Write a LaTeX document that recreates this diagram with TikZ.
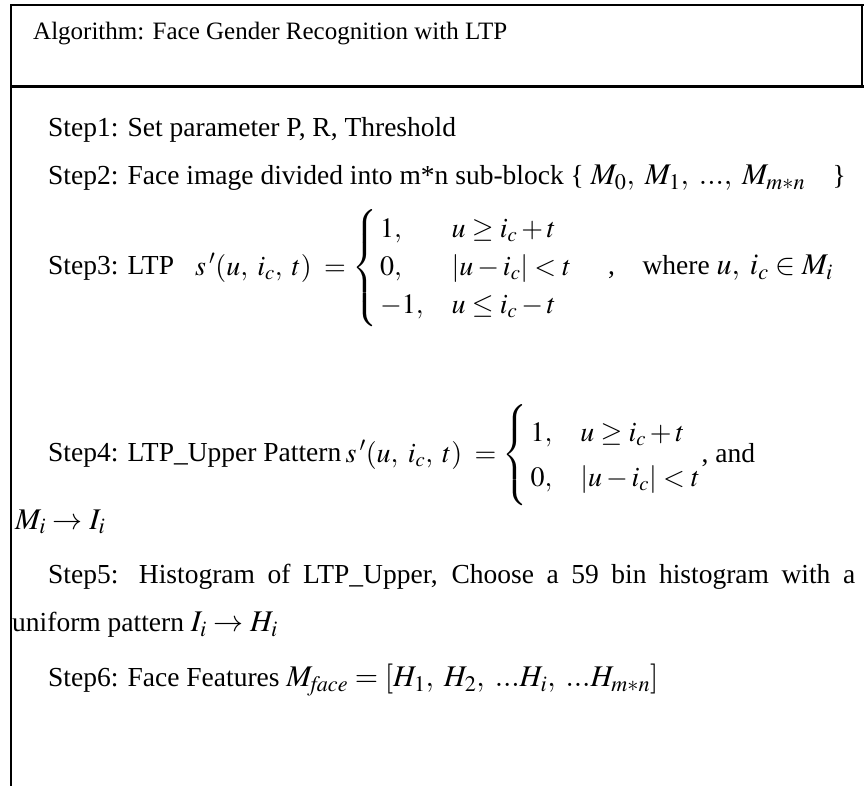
\documentclass[tikz,border=0pt]{standalone}
\usepackage{amsmath}
\usepackage{mathptmx}
\usepackage{fontspec}
\setmainfont{Liberation Serif}
\usetikzlibrary{positioning}

\newcommand{\mtxt}[1]{{\fontsize{30}{35}\selectfont$#1$}}
\newcommand{\casesrows}[2]{\renewcommand{\arraystretch}{#1}\left\{\begin{array}{@{\,}l@{\quad}l@{}}#2\end{array}\right.}

\begin{document}
\begin{tikzpicture}[x=1pt,y=1pt]
\tikzstyle{every node}+=[inner sep=0pt,anchor=west,font=\fontsize{27.5}{32}\selectfont]
\tikzstyle{eqfont}=[font=\fontsize{28}{33}\selectfont]
\useasboundingbox (0,0) rectangle (864,-786);
% frame
\draw [line width=1.5pt] (864,-5) -- (11,-5) -- (11,-786);
\draw [line width=1.5pt] (862,-5) -- (862,-87);
\draw [line width=3pt] (11,-87) -- (864,-87);
% header
\node (title) at (33,-34) [font=\fontsize{25}{30}\selectfont] {Algorithm: Face Gender Recognition with LTP};
% steps
\node (step1) at (48,-130) {Step1: Set parameter P, R, Threshold};
\node (step2) at (48,-178) {Step2: Face image divided into m*n sub-block \{ \mtxt{M_0,\;M_1,\;...,\;M_{m*n}}\quad\}};
\node (step3) at (48,-268) {Step3: LTP};
\node (ltp) at (195,-268) [eqfont] {$s\,'(u,\;i_c,\;t)\;=\casesrows{1.15}{1, & u\geq i_c+t\\ 0, & |u-i_c|<t\\ -1, & u\leq i_c-t}$};
\node (where) at (608,-268) {,\quad where \mtxt{u,\;i_c\in M_i}};
\node (step4) at (48,-455) {Step4: LTP\_Upper Pattern};
\node (upper) at (step4.east) [eqfont,xshift=4pt] {$s\,'(u,\;i_c,\;t)\;=\casesrows{1.35}{1, & u\geq i_c+t\\ 0, & |u-i_c|<t}$};
\node (and) at (upper.east) [anchor=south west,yshift=-12pt] {, and};
\node (map1) at (15,-522) {\mtxt{M_i\rightarrow I_i}};
\node (step5) at (48,-577) {\makebox[807pt][s]{Step5: Histogram of LTP\_Upper, Choose a 59 bin histogram with a}};
\node (uni) at (12,-625) {uniform pattern \mtxt{I_i\rightarrow H_i}};
\node (step6) at (48,-680) {Step6: Face Features \mtxt{M_{\mathit{face}}=[H_1,\;H_2,\;...H_i,\;...H_{m*n}]}};
\end{tikzpicture}
\end{document}
